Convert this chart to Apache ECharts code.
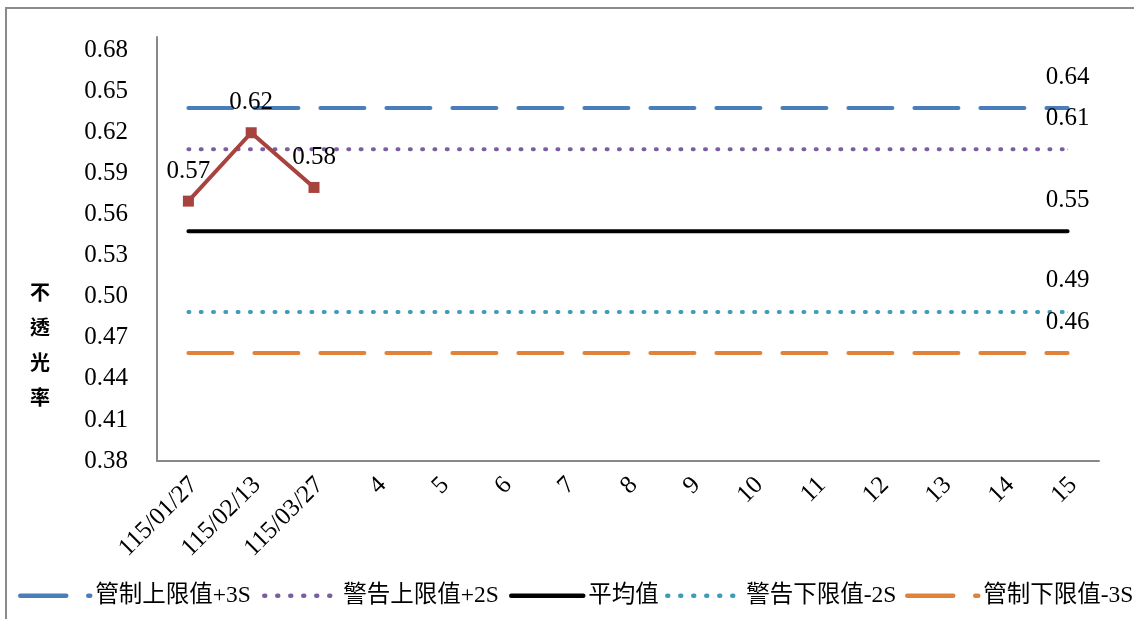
<!DOCTYPE html>
<html>
<head>
<meta charset="utf-8">
<script src="https://cdn.jsdelivr.net/npm/echarts@6/dist/echarts.min.js"></script>
<style>html,body{margin:0;padding:0;background:#fff;}#c{width:1134px;height:619px;}</style>
</head>
<body>
<div id="c"></div>
<script>
const categories = ['115/01/27','115/02/13','115/03/27','4','5','6','7','8','9','10','11','12','13','14','15'];
const measured = [0.57, 0.62, 0.58, null, null, null, null, null, null, null, null, null, null, null, null];
const ucl = [0.638,0.638,0.638,0.638,0.638,0.638,0.638,0.638,0.638,0.638,0.638,0.638,0.638,0.638,0.638];
const uwl = [0.608,0.608,0.608,0.608,0.608,0.608,0.608,0.608,0.608,0.608,0.608,0.608,0.608,0.608,0.608];
const mean = [0.548,0.548,0.548,0.548,0.548,0.548,0.548,0.548,0.548,0.548,0.548,0.548,0.548,0.548,0.548];
const lwl = [0.489,0.489,0.489,0.489,0.489,0.489,0.489,0.489,0.489,0.489,0.489,0.489,0.489,0.489,0.489];
const lcl = [0.459,0.459,0.459,0.459,0.459,0.459,0.459,0.459,0.459,0.459,0.459,0.459,0.459,0.459,0.459];
const seriesNames = ['管制上限值+3S','警告上限值+2S','平均值','警告下限值-2S','管制下限值-3S'];
const yAxisTitle = '不透光率';

const serif = '"Liberation Serif", "Times New Roman", serif';
const cjk = '"Liberation Serif", "Noto Sans CJK TC", serif';
const FS = 25;

function lastLabel(arr) {
  return arr.map((v, i) => i === arr.length - 1
    ? { value: v, label: { show: true, position: 'top', distance: 18, formatter: p => p.value.toFixed(2), fontFamily: serif, fontSize: FS, color: '#000' } }
    : v);
}

function refSeries(name, arr, color, dash) {
  const last = arr.length - 1;
  return {
    name: name, type: 'line', data: lastLabel(arr),
    symbol: 'circle', showSymbol: true,
    symbolSize: (v, p) => p.dataIndex === last ? 1 : 0,
    silent: true,
    itemStyle: { color: color },
    lineStyle: { color: color, width: 4, type: dash, cap: 'round' },
    z: 2
  };
}

// one legend component per item so that each sample/text sits where it does in the original
const legendSlots = [
  { left: 18, itemWidth: 70, dash: [46, 22] },
  { left: 262, itemWidth: 74, dash: [1, 12] },
  { left: 509, itemWidth: 72, dash: 'inherit' },
  { left: 665, itemWidth: 74, dash: [1, 12] },
  { left: 905, itemWidth: 71, dash: [46, 22] }
];

const chart = echarts.init(document.getElementById('c'), null, { renderer: 'canvas' });
chart.setOption({
  animation: false,
  backgroundColor: '#fff',
  grid: { left: 157, top: 37, right: 35, bottom: 158 },
  xAxis: {
    type: 'category', data: categories, boundaryGap: true,
    axisLine: { lineStyle: { color: '#878787', width: 2 } },
    axisTick: { show: false },
    axisLabel: { rotate: 45, margin: 26, padding: [0, -8, 0, 0], fontFamily: serif, fontSize: FS, color: '#000', interval: 0 }
  },
  yAxis: {
    type: 'value', min: 0.38, max: 0.69, interval: 0.03,
    splitLine: { show: false },
    axisLine: { show: true, lineStyle: { color: '#878787', width: 2 } },
    axisTick: { show: false },
    axisLabel: { showMaxLabel: false, margin: 29, fontFamily: serif, fontSize: FS, color: '#000', formatter: v => v.toFixed(2) }
  },
  legend: legendSlots.map((s, i) => ({
    left: s.left, top: 584, width: 400, padding: 0, itemWidth: s.itemWidth, itemHeight: 8,
    data: [seriesNames[i]],
    itemStyle: { opacity: 0 },
    lineStyle: { width: 4.5, cap: 'round', type: s.dash },
    textStyle: { fontFamily: cjk, fontSize: 23.5, color: '#000' }
  })),
  graphic: [
    { type: 'rect', shape: { x: 6, y: 8, width: 1140, height: 640 }, style: { fill: 'none', stroke: '#8a8a8a', lineWidth: 2 }, silent: true },
    { type: 'text', left: 30, top: 275, style: { text: yAxisTitle.split('').join('\n'), font: 'bold 20px "Noto Sans CJK TC"', lineHeight: 35, fill: '#000', align: 'center' } }
  ],
  series: [
    refSeries(seriesNames[0], ucl, '#4A7EBB', [44, 22]),
    refSeries(seriesNames[1], uwl, '#7A5EA0', [1, 11.3]),
    refSeries(seriesNames[2], mean, '#000000', 'solid'),
    refSeries(seriesNames[3], lwl, '#3F9CB6', [1, 11.3]),
    refSeries(seriesNames[4], lcl, '#E0823A', [44, 22]),
    {
      name: '不透光率', type: 'line', data: measured, connectNulls: false,
      symbol: 'rect', symbolSize: 11,
      itemStyle: { color: '#A8423F' },
      lineStyle: { color: '#A8423F', width: 4 },
      label: { show: true, position: 'top', distance: 12, fontFamily: serif, fontSize: FS, color: '#000', formatter: p => p.value == null ? '' : p.value.toFixed(2) },
      z: 5
    }
  ]
});
</script>
</body>
</html>
